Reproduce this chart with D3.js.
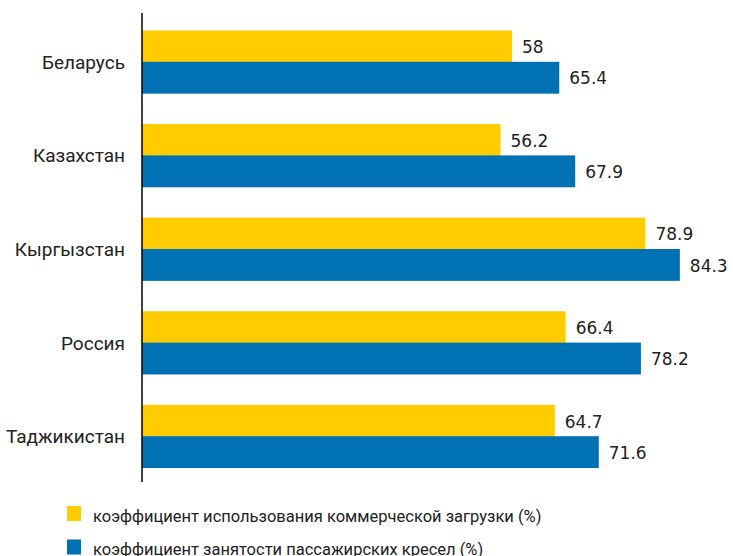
<!DOCTYPE html>
<html><head><meta charset="utf-8">
<script src="https://cdn.jsdelivr.net/npm/d3@7"></script>
<style>body{margin:0;background:#fff}svg{display:block}</style>
</head><body>
<script>
const categories = ["Беларусь","Казахстан","Кыргызстан","Россия","Таджикистан"];
const commercialLoad = [58, 56.2, 78.9, 66.4, 64.7];
const seatOccupancy = [65.4, 67.9, 84.3, 78.2, 71.6];
const seriesNames = ["коэффициент использования коммерческой загрузки (%)","коэффициент занятости пассажирских кресел (%)"];
const colors = ["#FFCC00","#0071B3"];

const W = 733, H = 556;
const svg = d3.select("body").append("svg").attr("width",W).attr("height",H);
const x = d3.scaleLinear().domain([0,100]).range([142,780]);
const y = d3.scaleBand().domain(categories).range([15,483]).paddingInner(0.33).paddingOuter(0.165);
const y1 = d3.scaleBand().domain([0,1]).range([0,y.bandwidth()]);
const series = [commercialLoad, seatOccupancy];

categories.forEach((c,i)=>{
  const g = svg.append("g").attr("transform",`translate(0,${y(c)})`);
  series.forEach((s,k)=>{
    g.append("rect").attr("x",x(0)).attr("y",y1(k)).attr("width",x(s[i])-x(0)).attr("height",y1.bandwidth()+0.5).attr("fill",colors[k]);
    g.append("text").attr("x",x(s[i])+10).attr("y",y1(k)+y1.bandwidth()/2+7)
      .attr("font-family","DejaVu Sans").attr("font-size",17).attr("fill","#222").text(s[i]);
  });
  svg.append("text").attr("x",125).attr("y",y(c)+y.bandwidth()/2+7).attr("text-anchor","end")
    .attr("font-family","Roboto").attr("font-size",19).attr("fill","#222").text(c);
});

svg.append("line").attr("x1",142).attr("x2",142).attr("y1",13).attr("y2",482).attr("stroke","#000").attr("stroke-width",1.5);

const legend = svg.append("g");
seriesNames.forEach((n,k)=>{
  const ly = 506 + k*33.5;
  legend.append("rect").attr("x",67).attr("y",ly).attr("width",14).attr("height",15).attr("fill",colors[k]);
  legend.append("text").attr("x",93).attr("y",ly+15.5).attr("font-family","Roboto").attr("font-size",16.5).attr("fill","#222").text(n);
});
</script>
</body></html>
